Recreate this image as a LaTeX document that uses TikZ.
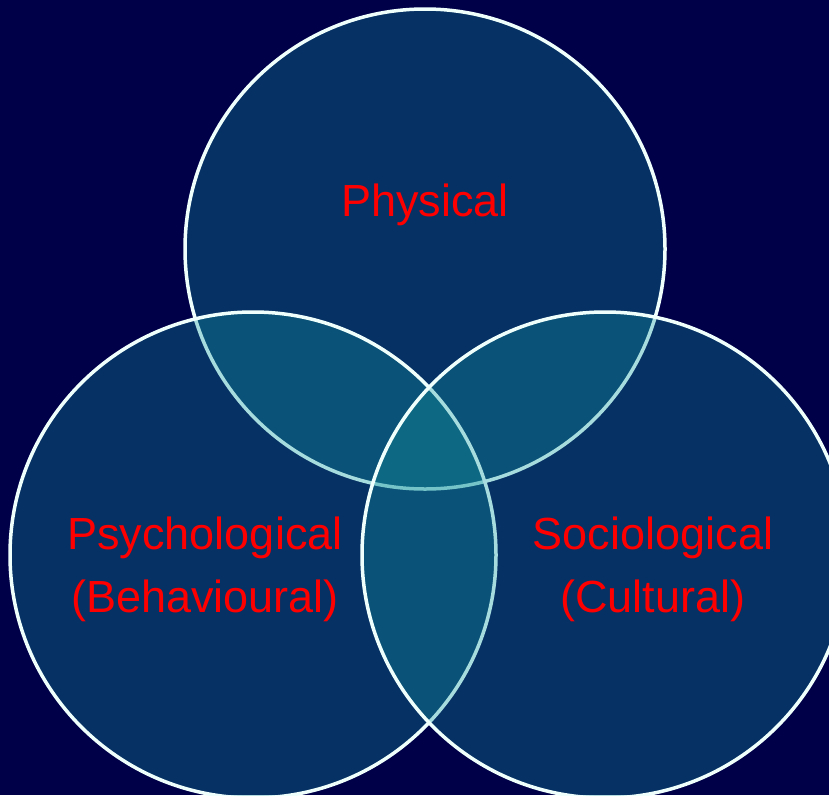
\documentclass[tikz,border=0pt]{standalone}
\usepackage{fontspec}
\setmainfont{Liberation Sans}

\definecolor{navy}{RGB}{0,0,72}
\definecolor{kreisfill}{RGB}{20,150,160}
\definecolor{rand}{RGB}{238,255,252}
\definecolor{textrot}{RGB}{255,0,0}

\begin{document}
\begin{tikzpicture}[x=1pt, y=-1pt,
    kreis/.style={circle, draw=rand, line width=3.5pt, fill=kreisfill,
                  fill opacity=0.33, inner sep=0pt},
    beschr/.style={text=textrot, font=\fontsize{45}{63}\selectfont, align=center}
  ]
  % Hintergrund
  \useasboundingbox (0,0) rectangle (829,795);
  \fill[navy] (0,0) rectangle (829,795);

  % Kreise
  \node[kreis, minimum size=480pt] (physisch) at (425,249) {};
  \node[kreis, minimum size=486pt] (psycho) at (253,555) {};
  \node[kreis, minimum size=486pt] (sozio) at (605,555) {};

  % Beschriftungen
  \node[beschr, anchor=base] (tphys) at (425,216) {Physical};
  \node[beschr] (tpsycho) at (205,569) {Psychological\\(Behavioural)};
  \node[beschr] (tsozio) at (653,569) {Sociological\\(Cultural)};
\end{tikzpicture}
\end{document}
